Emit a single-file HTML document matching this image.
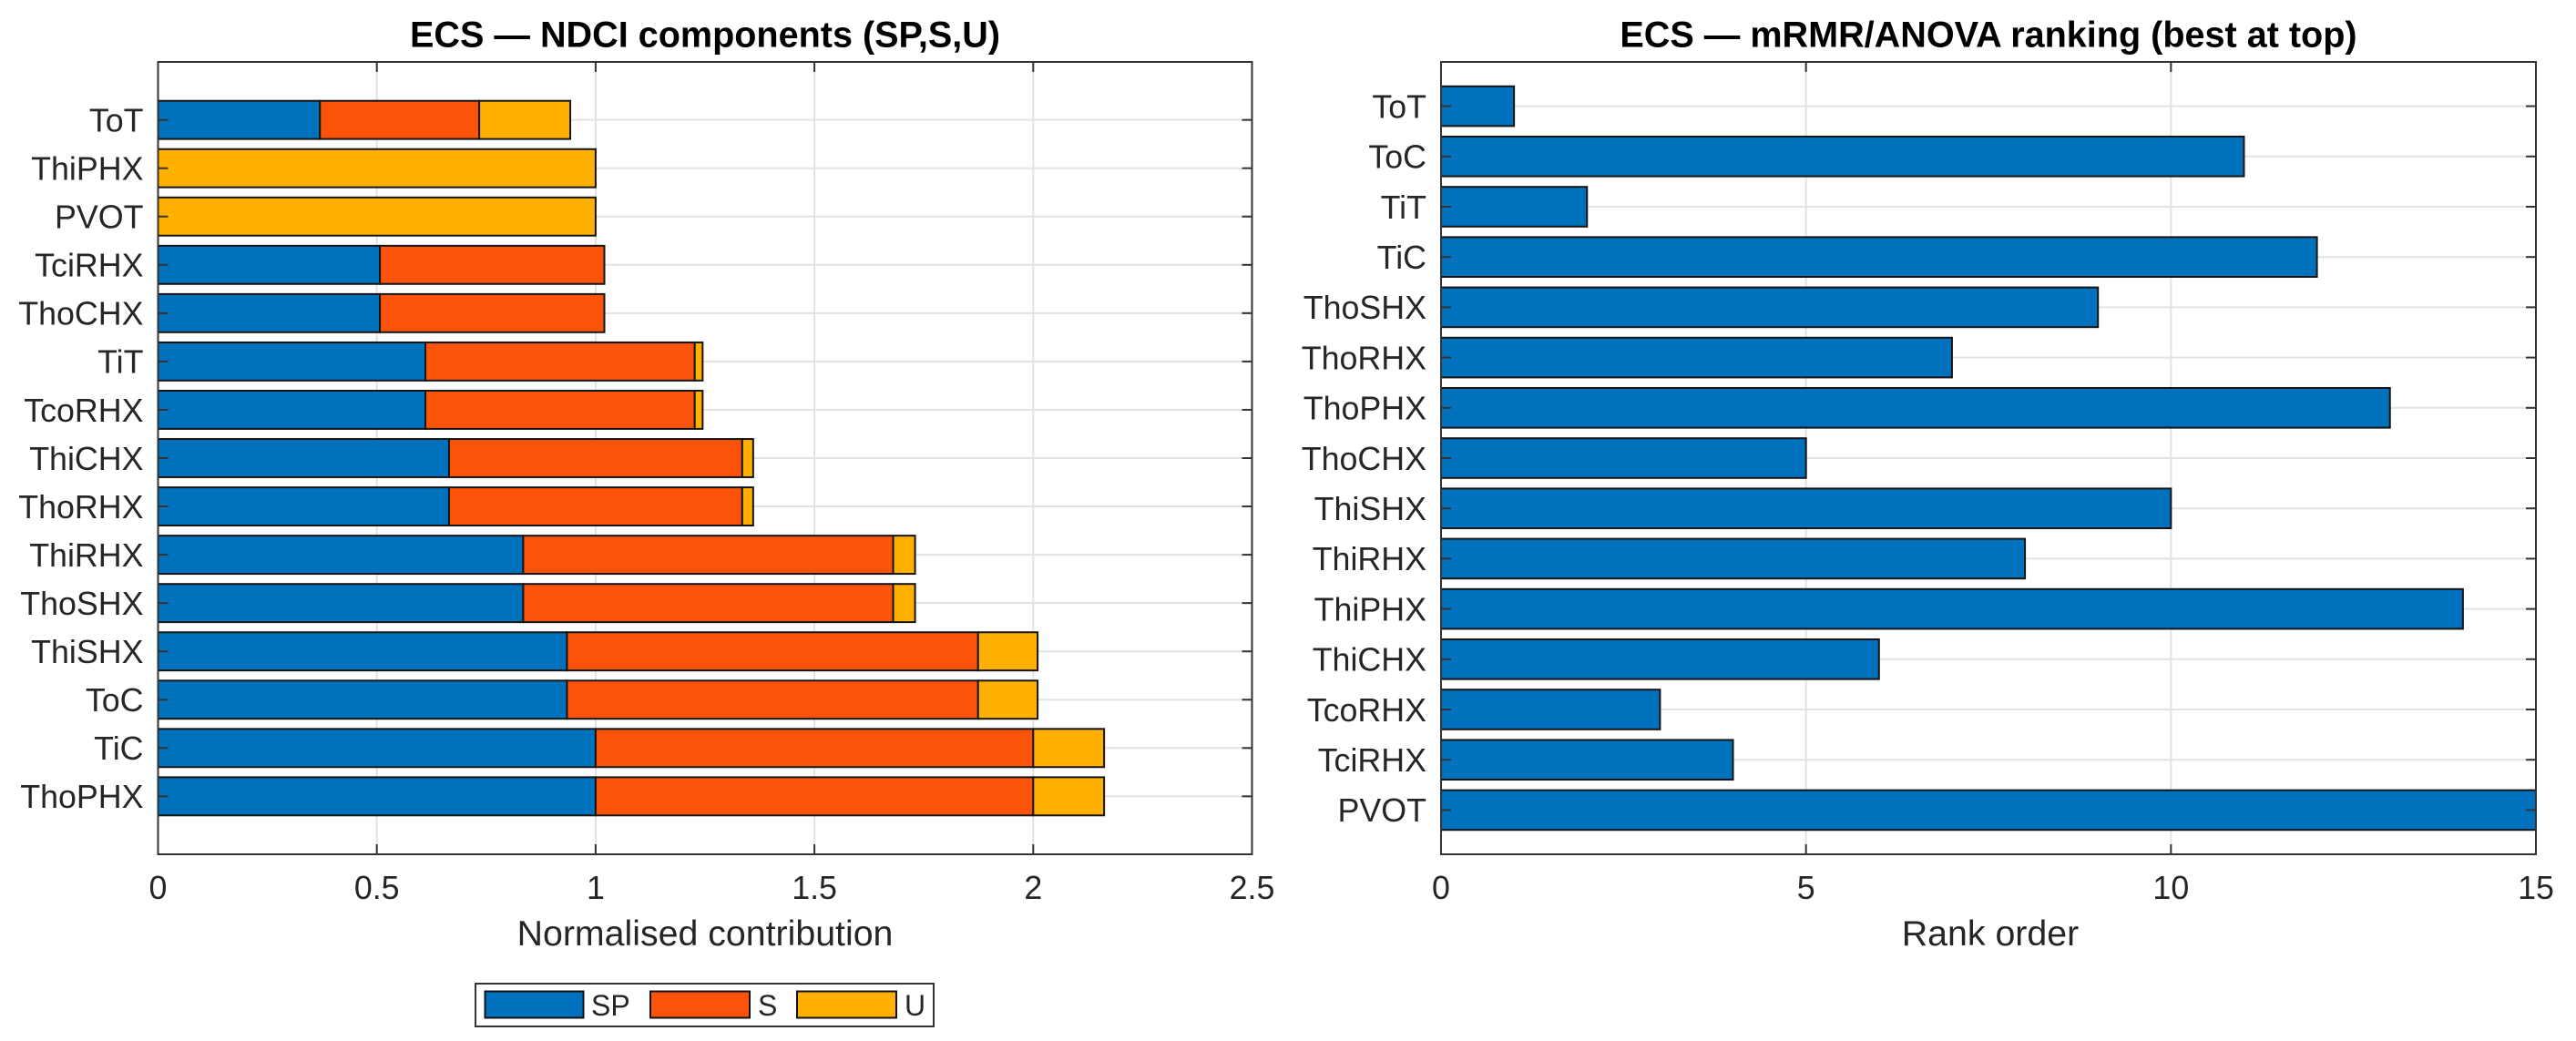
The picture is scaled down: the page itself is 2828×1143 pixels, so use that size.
<!DOCTYPE html>
<html>
<head>
<meta charset="utf-8">
<title>ECS NDCI components and mRMR/ANOVA ranking</title>
<style>
html,body{margin:0;padding:0;background:#fff;width:2828px;height:1143px;overflow:hidden}
svg{display:block}
text{font-family:"Liberation Sans",Arial,sans-serif;fill:#262626}
</style>
</head>
<body>
<svg id="fig" xmlns="http://www.w3.org/2000/svg" width="2828" height="1143" viewBox="0 0 2828 1143">
  <rect x="0" y="0" width="2828" height="1143" fill="#ffffff"/>
  <g id="left"></g>
  <g id="right"></g>
  <g>
    <rect x="522" y="1080" width="503" height="47" fill="#fff" stroke="#333" stroke-width="2"/>
    <rect x="532.5" y="1088.5" width="108" height="29" fill="#0072BD" stroke="#111" stroke-width="2"/>
    <text x="649" y="1115" font-size="32">SP</text>
    <rect x="714" y="1088.5" width="109" height="29" fill="#FB540A" stroke="#111" stroke-width="2"/>
    <text x="832" y="1115" font-size="32">S</text>
    <rect x="875" y="1088.5" width="109" height="29" fill="#FFB000" stroke="#111" stroke-width="2"/>
    <text x="993" y="1115" font-size="32">U</text>
  </g>
</svg>
<script>
// ---- left chart data (top to bottom) ----
const leftCategories = ["ToT","ThiPHX","PVOT","TciRHX","ThoCHX","TiT","TcoRHX","ThiCHX","ThoRHX","ThiRHX","ThoSHX","ThiSHX","ToC","TiC","ThoPHX"];
const spValues = [0.37,0,0,0.507,0.507,0.611,0.611,0.665,0.665,0.8345,0.8345,0.9345,0.9345,1,1];
const sValues  = [0.364,0,0,0.513,0.513,0.6155,0.6155,0.67,0.67,0.8455,0.8455,0.9395,0.9395,1,1];
const uValues  = [0.208,1,1,0,0,0.018,0.018,0.025,0.025,0.05,0.05,0.136,0.136,0.162,0.162];
const leftTicks = [0,0.5,1,1.5,2,2.5];
const leftTickLabels = ["0","0.5","1","1.5","2","2.5"];
// ---- right chart data (top to bottom) ----
const rightCategories = ["ToT","ToC","TiT","TiC","ThoSHX","ThoRHX","ThoPHX","ThoCHX","ThiSHX","ThiRHX","ThiPHX","ThiCHX","TcoRHX","TciRHX","PVOT"];
const rankValues = [1,11,2,12,9,7,13,5,10,8,14,6,3,4,15];
const rightTicks = [0,5,10,15];
const rightTickLabels = ["0","5","10","15"];

const NS = "http://www.w3.org/2000/svg";
const INK = "#333333";
const GRID = "#e3e3e3";
const BAR_EDGE = "#141414";
const TOP = 68, BOTTOM = 938;

function make(tag, attrs, parent, txt){
  const el = document.createElementNS(NS, tag);
  for (const k in attrs) el.setAttribute(k, attrs[k]);
  if (txt !== undefined) el.textContent = txt;
  parent.appendChild(el);
  return el;
}

function drawFrame(g, box, x, y, ticks, tickLabels, cats, title, xlabel){
  // grid
  ticks.forEach(function(t){
    if (t === ticks[0] || t === ticks[ticks.length-1]) return;
    const el = make("line",{x1:x(t),x2:x(t),y1:TOP,y2:BOTTOM,stroke:GRID,"stroke-width":2},g);
    
    
  });
  cats.forEach(function(c,i){
    const el = make("line",{x1:box.l,x2:box.r,y1:y(i),y2:y(i),stroke:GRID,"stroke-width":2},g);
    
    
  });
  // title and axis label
  const t = make("text",{x:(box.l+box.r)/2,y:51.5,"text-anchor":"middle","font-size":39.6,"font-weight":"bold",style:"fill:#000"},g,title);
  
  
  const xl = make("text",{x:(box.l+box.r)/2+box.xlo,y:1038,"text-anchor":"middle","font-size":39.3},g,xlabel);
  
  
  // category labels
  cats.forEach(function(c,i){
    const el = make("text",{x:box.l-box.lab,y:y(i)+12.8,"text-anchor":"end","font-size":35.8},g,c);
    
    
  });
  // x tick labels
  ticks.forEach(function(v,i){
    const el = make("text",{x:x(v),y:987,"text-anchor":"middle","font-size":35.8},g,tickLabels[i]);
    
    
  });
}

function drawTicksAndBorder(g, box, x, y, ticks, cats){
  ticks.forEach(function(t){
    if (t === ticks[0] || t === ticks[ticks.length-1]) return;
    const a = make("line",{x1:x(t),x2:x(t),y1:BOTTOM,y2:BOTTOM-11,stroke:INK,"stroke-width":2},g);
    
    
    const b = make("line",{x1:x(t),x2:x(t),y1:TOP,y2:TOP+11,stroke:INK,"stroke-width":2},g);
    
    
  });
  cats.forEach(function(c,i){
    const a = make("line",{x1:box.l,x2:box.l+11,y1:y(i),y2:y(i),stroke:INK,"stroke-width":2},g);
    
    
    const b = make("line",{x1:box.r,x2:box.r-11,y1:y(i),y2:y(i),stroke:INK,"stroke-width":2},g);
    
    
  });
  const f = make("rect",{x:box.l,y:TOP,width:box.r-box.l,height:BOTTOM-TOP,fill:"none",stroke:INK,"stroke-width":2},g);
  
  
}

// ---- left chart ----
(function(){
  const g = document.getElementById("left");
  const box = {l:173.5,r:1374.5,lab:16,xlo:0};
  const xMax = 2.5;
  const yMin = -0.2, yMax = 16.2;
  const x = function(v){ return box.l + (v/xMax)*(box.r-box.l); };
  const y = function(i){ return TOP + ((i+1)-yMin)/(yMax-yMin)*(BOTTOM-TOP); };
  const unit = (BOTTOM-TOP)/(yMax-yMin);
  const h = 0.79*unit;
  drawFrame(g,box,x,y,leftTicks,leftTickLabels,leftCategories,"ECS \u2014 NDCI components (SP,S,U)","Normalised contribution");
  leftCategories.forEach(function(c,i){
    const a = spValues[i], b = sValues[i], d = uValues[i];
    if (a > 0){
      const el = make("rect",{x:x(0),y:y(i)-h/2,width:x(a)-x(0),height:h,fill:"#0072BD",stroke:BAR_EDGE,"stroke-width":2},g);
      
      
    }
    if (b > 0){
      const el = make("rect",{x:x(a),y:y(i)-h/2,width:x(a+b)-x(a),height:h,fill:"#FB540A",stroke:BAR_EDGE,"stroke-width":2},g);
      
      
    }
    if (d > 0){
      const el = make("rect",{x:x(a+b),y:y(i)-h/2,width:x(a+b+d)-x(a+b),height:h,fill:"#FFB000",stroke:BAR_EDGE,"stroke-width":2},g);
      
      
    }
  });
  drawTicksAndBorder(g,box,x,y,leftTicks,leftCategories);
})();

// ---- right chart ----
(function(){
  const g = document.getElementById("right");
  const box = {l:1582,r:2784,lab:16,xlo:2};
  const xMax = 15;
  const yMin = 0.12, yMax = 15.88;
  const x = function(v){ return box.l + (v/xMax)*(box.r-box.l); };
  const y = function(i){ return TOP + ((i+1)-yMin)/(yMax-yMin)*(BOTTOM-TOP); };
  const unit = (BOTTOM-TOP)/(yMax-yMin);
  const h = 0.79*unit;
  drawFrame(g,box,x,y,rightTicks,rightTickLabels,rightCategories,"ECS \u2014 mRMR/ANOVA ranking (best at top)","Rank order");
  rightCategories.forEach(function(c,i){
    const el = make("rect",{x:x(0),y:y(i)-h/2,width:x(rankValues[i])-x(0),height:h,fill:"#0072BD",stroke:BAR_EDGE,"stroke-width":2},g);
    
    
  });
  drawTicksAndBorder(g,box,x,y,rightTicks,rightCategories);
})();
</script>
</body>
</html>
